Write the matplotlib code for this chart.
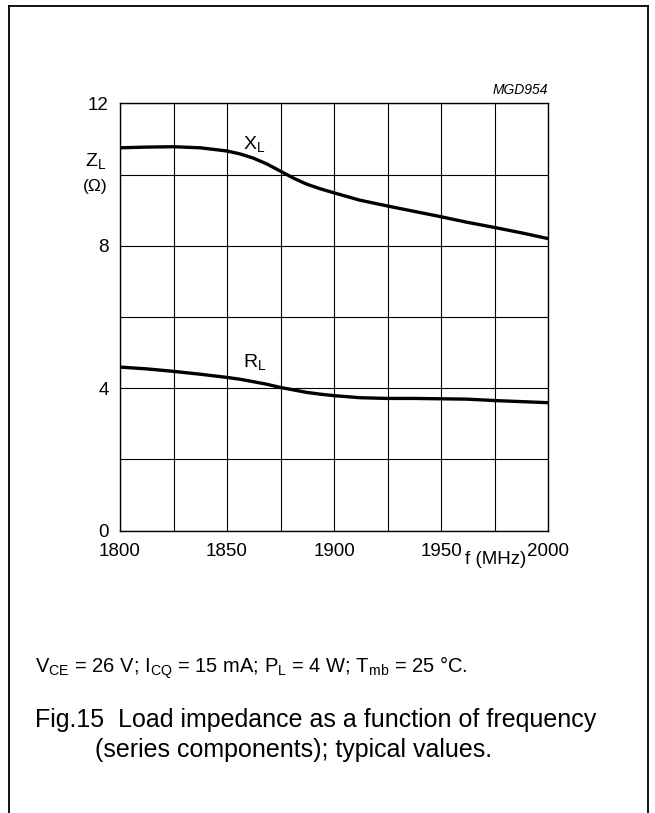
import matplotlib
matplotlib.use("Agg")
import matplotlib.pyplot as plt
from matplotlib.lines import Line2D

plt.rcParams["font.family"] = ["Liberation Sans", "DejaVu Sans"]
plt.rcParams["mathtext.fontset"] = "custom"
plt.rcParams["mathtext.rm"] = "Liberation Sans"
plt.rcParams["mathtext.it"] = "Liberation Sans:italic"

# frequency (MHz) vs series load impedance components (ohm)
freq = [1800, 1812.5, 1825, 1837.5, 1850, 1856, 1862.3, 1868.5, 1874.8, 1881,
        1887.2, 1893.5, 1899.7, 1912, 1924.6, 1937, 1949.5, 1962, 1975.2, 1987.7, 2000]
x_l = [10.75, 10.77, 10.78, 10.75, 10.66, 10.58, 10.46, 10.30, 10.10, 9.90,
       9.73, 9.60, 9.49, 9.28, 9.12, 8.97, 8.82, 8.66, 8.51, 8.36, 8.20]
r_l = [4.59, 4.54, 4.47, 4.39, 4.30, 4.25, 4.18, 4.11, 4.02, 3.95,
       3.88, 3.83, 3.79, 3.73, 3.71, 3.71, 3.70, 3.69, 3.65, 3.62, 3.59]

xticks = [1800, 1850, 1900, 1950, 2000]
yticks = [0, 4, 8, 12]

W, H = 655, 813
fig = plt.figure(figsize=(W / 100, H / 100), dpi=100)

# page frame, open at the bottom
for xs, ys in [([9, 9], [6, 813]), ([9, 648], [6, 6]), ([648, 648], [6, 813])]:
    fig.add_artist(Line2D([x / W for x in xs], [1 - y / H for y in ys],
                          color="black", lw=1.3))

ax = fig.add_axes([120 / W, 1 - 530.5 / H, 428 / W, 427.2 / H])
ax.plot(freq, x_l, color="black", lw=2.4, solid_capstyle="butt")
ax.plot(freq, r_l, color="black", lw=2.4, solid_capstyle="butt")

ax.set_xlim(1800, 2000)
ax.set_ylim(0, 12)
grid_x = list(range(1800, 2001, 25))
grid_y = list(range(0, 13, 2))
ax.set_xticks(grid_x)
ax.set_yticks(grid_y)
ax.grid(True, color="black", lw=0.8)
ax.set_xticklabels([str(v) if v in xticks else "" for v in grid_x])
ax.set_yticklabels([str(v) if v in yticks else "" for v in grid_y])
ax.tick_params(length=0, labelsize=13.5)
ax.tick_params(axis="x", pad=9)
ax.tick_params(axis="y", pad=8)
for s in ax.spines.values():
    s.set_linewidth(1.0)

ax.text(1857.5, 10.72, r"X$_\mathrm{L}$", fontsize=14)
ax.text(1857.5, 4.6, r"R$_\mathrm{L}$", fontsize=14)

fig.text(548 / W, 1 - 90 / H, "MGD954", fontsize=10, style="italic", ha="right", va="center")
fig.text(96 / W, 1 - 161 / H, r"Z$_\mathrm{L}$", fontsize=14, ha="center", va="center")
fig.text(95 / W, 1 - 187 / H, "(Ω)", fontsize=12.5, ha="center", va="center")
fig.text(496 / W, 1 - 559 / H, "f (MHz)", fontsize=13.5, ha="center", va="center")

fig.text(35 / W, 1 - 668 / H,
         r"V$_\mathrm{CE}$ = 26 V; I$_\mathrm{CQ}$ = 15 mA; P$_\mathrm{L}$ = 4 W; T$_\mathrm{mb}$ = 25 °C.",
         fontsize=14.5, ha="left", va="center")
fig.text(35 / W, 1 - 720 / H, "Fig.15  Load impedance as a function of frequency",
         fontsize=18, ha="left", va="center")
fig.text(95 / W, 1 - 750 / H, "(series components); typical values.",
         fontsize=18, ha="left", va="center")

fig.savefig("out.png", dpi=100)
